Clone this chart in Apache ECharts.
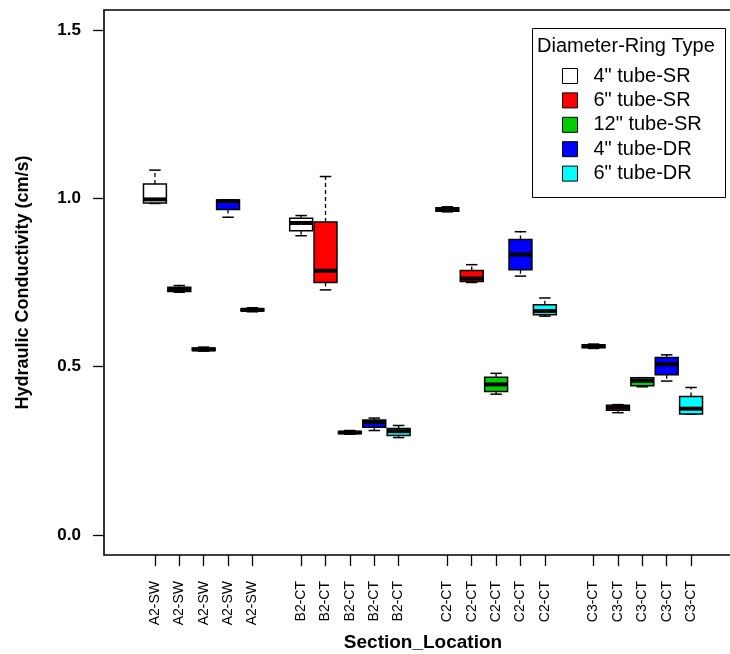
<!DOCTYPE html>
<html>
<head>
<meta charset="utf-8">
<script src="https://cdn.jsdelivr.net/npm/echarts@6/dist/echarts.min.js"></script>
<style>
  html, body { margin: 0; padding: 0; background: #fff; }
  #chart { width: 730px; height: 654px; }
</style>
</head>
<body>
<div id="chart"></div>
<script>
// ---- data ----
const sections = ['A2-SW', 'B2-CT', 'C2-CT', 'C3-CT'];
const ringTypes = ['4" tube-SR', '6" tube-SR', '12" tube-SR', '4" tube-DR', '6" tube-DR'];
const typeColors = ['#FFFFFF', '#FF0000', '#00CD00', '#0000FF', '#00FFFF'];
const yTicks = [0, 0.5, 1.0, 1.5];
// each entry: [min, Q1, median, Q3, max], one per section
const tube4SR  = [[0.985, 0.986, 0.997, 1.043, 1.084], [0.889, 0.904, 0.927, 0.941, 0.949], [0.960, 0.962, 0.967, 0.972, 0.975], [0.554, 0.556, 0.561, 0.565, 0.567]];
const tube6SR  = [[0.721, 0.723, 0.728, 0.736, 0.741], [0.728, 0.750, 0.785, 0.930, 1.065], [0.750, 0.753, 0.762, 0.786, 0.803], [0.363, 0.370, 0.379, 0.385, 0.387]];
const tube12SR = [[0.546, 0.548, 0.551, 0.555, 0.558], [0.299, 0.301, 0.304, 0.307, 0.310], [0.418, 0.426, 0.447, 0.468, 0.480], [0.440, 0.443, 0.458, 0.467, 0.467]];
const tube4DR  = [[0.944, 0.967, 0.992, 0.995, 0.995], [0.310, 0.320, 0.335, 0.341, 0.347], [0.769, 0.788, 0.833, 0.878, 0.901], [0.457, 0.476, 0.507, 0.527, 0.535]];
const tube6DR  = [[0.663, 0.665, 0.669, 0.672, 0.675], [0.289, 0.295, 0.308, 0.316, 0.325], [0.650, 0.654, 0.665, 0.684, 0.704], [0.359, 0.359, 0.375, 0.411, 0.438]];
const seriesValues = [tube4SR, tube6SR, tube12SR, tube4DR, tube6DR];

// ---- layout helpers ----
const FONT = "'Liberation Sans', Arial, Helvetica, sans-serif";
const nTypes = ringTypes.length;
const posLabel = {};
const positions = [];
sections.forEach((s, g) => {
  for (let t = 0; t < nTypes; t++) {
    const p = g * (nTypes + 1) + t + 1;
    positions.push(p);
    posLabel[p] = s;
  }
});

const BOX_W = 0.94;   // in axis units (slot = 1)
function renderBox(params, api) {
  const x = api.value(0);
  const pLo = api.coord([x, api.value(1)]);
  const pQ1 = api.coord([x, api.value(2)]);
  const pMd = api.coord([x, api.value(3)]);
  const pQ3 = api.coord([x, api.value(4)]);
  const pHi = api.coord([x, api.value(5)]);
  const bw = api.size([BOX_W, 0])[0];
  const cw = bw * 0.5;
  const cx = pMd[0];
  const fill = api.visual('color');
  const wStyle = { stroke: '#000', lineWidth: 1.3, lineDash: [4, 3] };
  const cStyle = { stroke: '#000', lineWidth: 1.5 };
  return {
    type: 'group',
    children: [
      { type: 'line', shape: { x1: cx, y1: pQ3[1], x2: cx, y2: pHi[1] }, style: wStyle },
      { type: 'line', shape: { x1: cx, y1: pQ1[1], x2: cx, y2: pLo[1] }, style: wStyle },
      { type: 'line', shape: { x1: cx - cw / 2, y1: pHi[1], x2: cx + cw / 2, y2: pHi[1] }, style: cStyle },
      { type: 'line', shape: { x1: cx - cw / 2, y1: pLo[1], x2: cx + cw / 2, y2: pLo[1] }, style: cStyle },
      { type: 'rect', shape: { x: cx - bw / 2, y: pQ3[1], width: bw, height: pQ1[1] - pQ3[1] },
        style: { fill: fill, stroke: '#000', lineWidth: 1.5 } },
      { type: 'line', shape: { x1: cx - bw / 2, y1: pMd[1], x2: cx + bw / 2, y2: pMd[1] },
        style: { stroke: '#000', lineWidth: 4 } }
    ]
  };
}

const series = ringTypes.map((name, t) => ({
  type: 'custom',
  name: name,
  renderItem: renderBox,
  itemStyle: { color: typeColors[t], borderColor: '#000', borderWidth: 1 },
  encode: { x: 0, y: [1, 2, 3, 4, 5] },
  data: seriesValues[t].map((v, g) => [g * (nTypes + 1) + t + 1].concat(v)),
  z: 5
}));

const chart = echarts.init(document.getElementById('chart'), null, { renderer: 'canvas' });
chart.setOption({
  animation: false,
  backgroundColor: '#fff',
  grid: { left: 104, top: 10, width: 638, height: 545, containLabel: false, outerBoundsMode: 'none',
    show: true, borderColor: '#000', borderWidth: 1.6, backgroundColor: 'transparent' },
  xAxis: {
    type: 'value', min: -1.09, max: 25.09,
    name: 'Section_Location', nameLocation: 'middle', nameGap: 77,
    nameTextStyle: { fontFamily: FONT, fontSize: 19, fontWeight: 'bold', color: '#000' },
    axisLine: { show: false, onZero: false },
    splitLine: { show: false },
    axisTick: { show: true, inside: false, customValues: positions, length: 11, lineStyle: { color: '#000', width: 1.3 } },
    axisLabel: { show: true, customValues: positions, rotate: 90, margin: 26,
      formatter: v => posLabel[v] || '', fontFamily: FONT, fontSize: 14, color: '#000' }
  },
  yAxis: {
    type: 'value', min: -0.06, max: 1.56,
    name: 'Hydraulic Conductivity (cm/s)', nameLocation: 'middle', nameGap: 72, nameRotate: 90,
    nameTextStyle: { fontFamily: FONT, fontSize: 18, fontWeight: 'bold', color: '#000' },
    axisLine: { show: false, onZero: false },
    splitLine: { show: false },
    axisTick: { show: true, inside: false, customValues: yTicks, length: 11, lineStyle: { color: '#000', width: 1.3 } },
    axisLabel: { show: true, customValues: yTicks, margin: 23,
      formatter: v => v.toFixed(1), fontFamily: FONT, fontSize: 17, fontWeight: 'bold', color: '#000' }
  },
  legend: {
    orient: 'vertical', left: 557, top: 61,
    itemWidth: 15, itemHeight: 15, itemGap: 4.4,
    selectedMode: false,
    textStyle: { fontFamily: FONT, fontSize: 20, lineHeight: 20, color: '#000', padding: [0, 0, 0, 11] },
    data: ringTypes.map((n, t) => ({ name: n, icon: 'rect', itemStyle: { color: typeColors[t], borderColor: '#000', borderWidth: 1 } }))
  },
  graphic: [
    { type: 'rect', left: 530, top: 26, shape: { width: 193, height: 169 }, style: { fill: 'none', stroke: '#000', lineWidth: 1 }, z: 10 },
    { type: 'text', left: 537, top: 36, style: { text: 'Diameter-Ring Type', font: '20px ' + FONT, fill: '#000' }, z: 10 }
  ],
  series: series
});
</script>
</body>
</html>
